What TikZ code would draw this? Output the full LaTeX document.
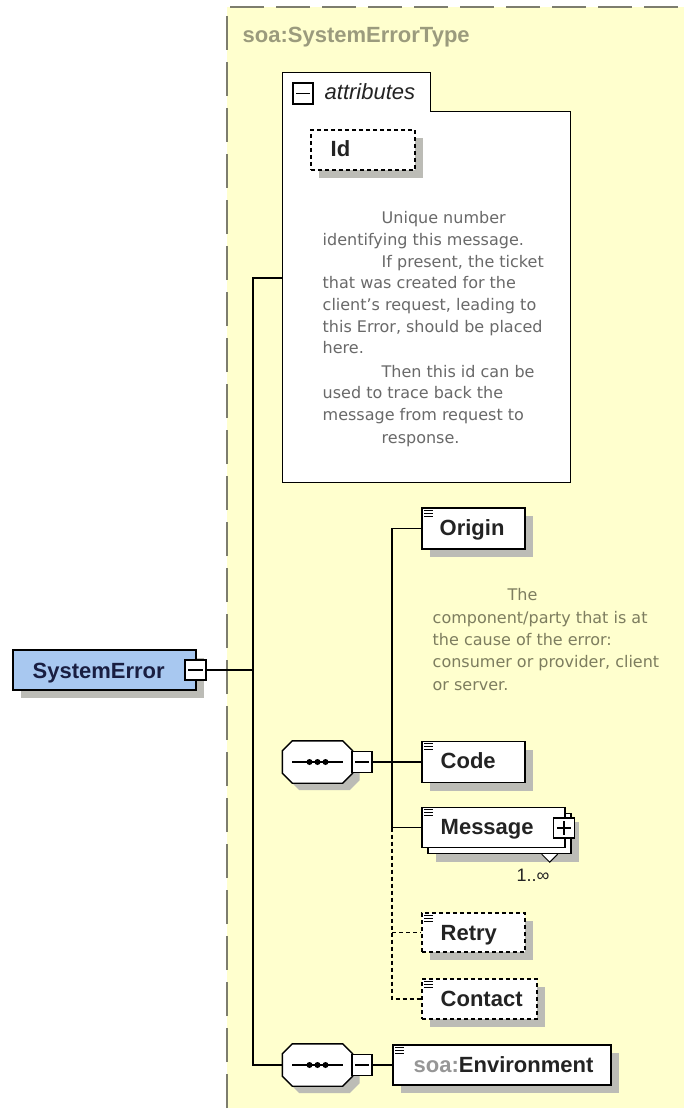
\documentclass[tikz,border=0pt]{standalone}
\usepackage{fontspec}
\setmainfont{Liberation Sans}
\newfontfamily\descfont{DejaVu Sans}
\usetikzlibrary{shadows,calc}
\definecolor{yellowbg}{RGB}{255,255,206}
\definecolor{dashcol}{RGB}{125,125,110}
\definecolor{shadowc}{RGB}{188,188,182}
\definecolor{bluefill}{RGB}{168,200,240}
\definecolor{titlecol}{RGB}{155,155,125}
\definecolor{desccolA}{RGB}{105,105,105}
\definecolor{desccolB}{RGB}{125,125,95}
\definecolor{labcol}{RGB}{35,35,35}
\definecolor{navy}{RGB}{25,30,65}
\definecolor{soagray}{RGB}{150,150,150}
\newcommand{\octagon}[2]{\path[#2] ([xshift=10pt]#1.north west) -- ([xshift=-10pt]#1.north east) -- ([yshift=-10pt]#1.north east) -- ([yshift=10pt]#1.south east) -- ([xshift=-10pt]#1.south east) -- ([xshift=10pt]#1.south west) -- ([yshift=10pt]#1.south west) -- ([yshift=-10pt]#1.north west) -- cycle;}
\newcommand{\eqicon}[1]{\draw[line width=1pt] ([shift={(3pt,-3pt)}]#1.north west) -- ++(9pt,0pt); \draw[line width=1pt] ([shift={(3pt,-6pt)}]#1.north west) -- ++(9pt,0pt); \draw[line width=1pt] ([shift={(3pt,-9pt)}]#1.north west) -- ++(9pt,0pt);}
\newcommand{\minussign}[1]{\draw[line width=1.3pt] ([xshift=4pt]#1.west) -- ([xshift=-4pt]#1.east);}
\newcommand{\plussign}[1]{\draw[line width=1.3pt] ([xshift=4pt]#1.west) -- ([xshift=-4pt]#1.east); \draw[line width=1.3pt] ([yshift=-4pt]#1.north) -- ([yshift=4pt]#1.south);}
\begin{document}
\begin{tikzpicture}[x=1pt,y=-1pt,
  line width=1.4pt,
  box/.style={draw=black, fill=white, line width=1.4pt, inner sep=0pt, rectangle},
  shadowed/.style={drop shadow={shadow xshift=8pt,shadow yshift=-8pt,fill=shadowc,opacity=1}},
  optbox/.style={box, dash pattern=on 4pt off 3pt},
  lbl/.style={font=\fontsize{22}{26}\selectfont\bfseries, text=labcol, inner sep=0pt, anchor=base west},
  descA/.style={font=\descfont\fontsize{16}{22}\selectfont, text=desccolA, inner sep=0pt, anchor=base west},
  descB/.style={descA, text=desccolB},
  conn/.style={draw=black, line width=1.4pt},
  optconn/.style={conn, dash pattern=on 4pt off 3pt},
  smallbox/.style={box, minimum width=20pt, minimum height=20pt},
  ghost/.style={inner sep=0pt, rectangle}
]
\useasboundingbox (0,0) rectangle (684,1115);
\fill[white] (0,0) rectangle (684,1115);
\fill[yellowbg] (227,7) rectangle (684,1108);
\draw[dashcol, line width=1.5pt, dash pattern=on 34pt off 12pt] (227,1108) -- (227,7) -- (684,7);

% title
\node[lbl, text=titlecol] (title) at (242,43) {soa:SystemErrorType};

% placeholder nodes (geometry)
\node[ghost, minimum width=287pt, minimum height=370pt] (attr) at (426.5,297) {};
\node[ghost, minimum width=147pt, minimum height=39pt] (attrtab) at (356.5,92.5) {};
\node[ghost, minimum width=69pt, minimum height=41pt] (seq1) at (317.5,762) {};
\node[ghost, minimum width=69pt, minimum height=41pt] (seq1s) at (324.5,769) {};
\node[ghost, minimum width=69pt, minimum height=41pt] (seq2) at (317.5,1065) {};
\node[ghost, minimum width=69pt, minimum height=41pt] (seq2s) at (324.5,1072) {};
\node[ghost, minimum width=103pt, minimum height=41pt] (origin) at (473.5,528.5) {};
\node[ghost, minimum width=103pt, minimum height=41pt] (code) at (473.5,762) {};
\node[ghost, minimum width=143pt, minimum height=40pt] (message) at (493.5,827.5) {};
\node[ghost, minimum width=103pt, minimum height=39pt] (retry) at (473.5,932.5) {};
\node[ghost, minimum width=115pt, minimum height=40pt] (contact) at (479.5,999) {};
\node[ghost, minimum width=218pt, minimum height=40pt] (env) at (502,1065) {};
\node[ghost, minimum width=21pt, minimum height=20pt] (sysm) at (195.5,670) {};
\node[ghost, minimum width=20pt, minimum height=21pt] (seq1m) at (362,762) {};
\node[ghost, minimum width=20pt, minimum height=21pt] (seq2m) at (362,1065) {};
\coordinate (jA) at (253,278);
\coordinate (jB) at (392,528.5);

% connectors
\draw[conn] (sysm.east) -- (sysm.east -| jA);
\draw[conn] (attr.west |- jA) -- (jA) |- (seq2.west);
\draw[conn] (seq1m.east) -- (code.west);
\draw[conn] (origin.west) -- (origin.west -| jB) |- (message.west);
\draw[optconn] (message.west -| jB) |- (contact.west);
\draw[optconn] (retry.west -| jB) -- (retry.west);
\draw[conn] (seq2m.east) -- (env.west);

% attributes container
\filldraw[fill=white, draw=black, line width=1.4pt] (attrtab.south west) |- (attrtab.north east) |- (attr.north east) |- (attr.south west) -- cycle;
\node[smallbox, minimum height=21pt] (attrm) at (303,93.5) {};
\minussign{attrm}
\node[font=\fontsize{22}{26}\selectfont\itshape, text=labcol, inner sep=0pt, anchor=base west] (attrlbl) at (324,100) {attributes};
\node[optbox, shadowed, minimum width=104pt, minimum height=40pt] (idbox) at (363,150) {};
\node[lbl] (idlbl) at (330,157) {Id};

\foreach \n/\xx/\yy/\txt in {1/381/223/{Unique number},2/322/245/{identifying this message.},3/381/267/{If present, the ticket},4/322/288/{that was created for the},5/322/310/{client’s request, leading to},6/322/332/{this Error, should be placed},7/322/353/{here.},8/381/377/{Then this id can be},9/322/398/{used to trace back the},10/322/420/{message from request to},11/381/443/{response.}}
  \node[descA] (dA\n) at (\xx,\yy) {\txt};

% SystemError
\node[box, fill=bluefill, shadowed, minimum width=183pt, minimum height=40pt] (sys) at (104.5,670) {};
\node[lbl, text=navy] (syslbl) at (32,678) {SystemError};
\node[smallbox, minimum width=21pt] (sysmb) at (sysm) {};
\minussign{sysmb}

% Origin
\node[box, shadowed, minimum width=103pt, minimum height=41pt] (originb) at (origin) {};
\eqicon{originb}
\node[lbl] (originlbl) at (439,535) {Origin};
\foreach \n/\xx/\yy/\txt in {1/507/600/{The},2/432/623/{component/party that is at},3/432/645/{the cause of the error:},4/432/667/{consumer or provider, client},5/432/690/{or server.}}
  \node[descB] (dB\n) at (\xx,\yy) {\txt};

% sequence 1
\octagon{seq1s}{fill=shadowc}
\octagon{seq1}{fill=white, draw=black, line width=1.4pt}
\draw[line width=1.4pt] ([xshift=10pt]seq1.west) -- ([xshift=-10pt]seq1.east);
\fill ([xshift=-8pt]seq1.center) circle (3pt);
\fill (seq1.center) circle (3pt);
\fill ([xshift=8pt]seq1.center) circle (3pt);
\node[smallbox, minimum height=21pt] (seq1mb) at (seq1m) {};
\minussign{seq1mb}

% Code
\node[box, shadowed, minimum width=103pt, minimum height=41pt] (codeb) at (code) {};
\eqicon{codeb}
\node[lbl] (codelbl) at (440,768) {Code};

% Message
\node[box, shadowed, minimum width=143pt, minimum height=40pt] (msgback) at (499.5,833.5) {};
\filldraw[fill=white, draw=black, line width=1pt] ([xshift=-30pt]msgback.south east) -- ([shift={(-22pt,-8pt)}]msgback.south east) -- ([xshift=-14pt]msgback.south east);
\node[box, minimum width=143pt, minimum height=40pt] (msgb) at (message) {};
\eqicon{msgb}
\node[lbl] (msglbl) at (440,834) {Message};
\node[smallbox, minimum width=21pt] (msgp) at (564,828) {};
\plussign{msgp}
\node[font=\fontsize{18}{20}\selectfont, text=labcol, inner sep=0pt, anchor=base west] (mult) at (516,881) {1..∞};

% Retry
\node[optbox, shadowed, minimum width=103pt, minimum height=39pt] (retryb) at (retry) {};
\eqicon{retryb}
\node[lbl] (retrylbl) at (440,940) {Retry};

% Contact
\node[optbox, shadowed, minimum width=115pt, minimum height=40pt] (contactb) at (contact) {};
\eqicon{contactb}
\node[lbl] (contactlbl) at (440,1006) {Contact};

% sequence 2
\octagon{seq2s}{fill=shadowc}
\octagon{seq2}{fill=white, draw=black, line width=1.4pt}
\draw[line width=1.4pt] ([xshift=10pt]seq2.west) -- ([xshift=-10pt]seq2.east);
\fill ([xshift=-8pt]seq2.center) circle (3pt);
\fill (seq2.center) circle (3pt);
\fill ([xshift=8pt]seq2.center) circle (3pt);
\node[smallbox, minimum height=21pt] (seq2mb) at (seq2m) {};
\minussign{seq2mb}

% Environment
\node[box, shadowed, minimum width=218pt, minimum height=40pt] (envb) at (env) {};
\eqicon{envb}
\node[lbl] (envlbl) at (413,1072) {\textcolor{soagray}{soa:}Environment};
\end{tikzpicture}
\end{document}
